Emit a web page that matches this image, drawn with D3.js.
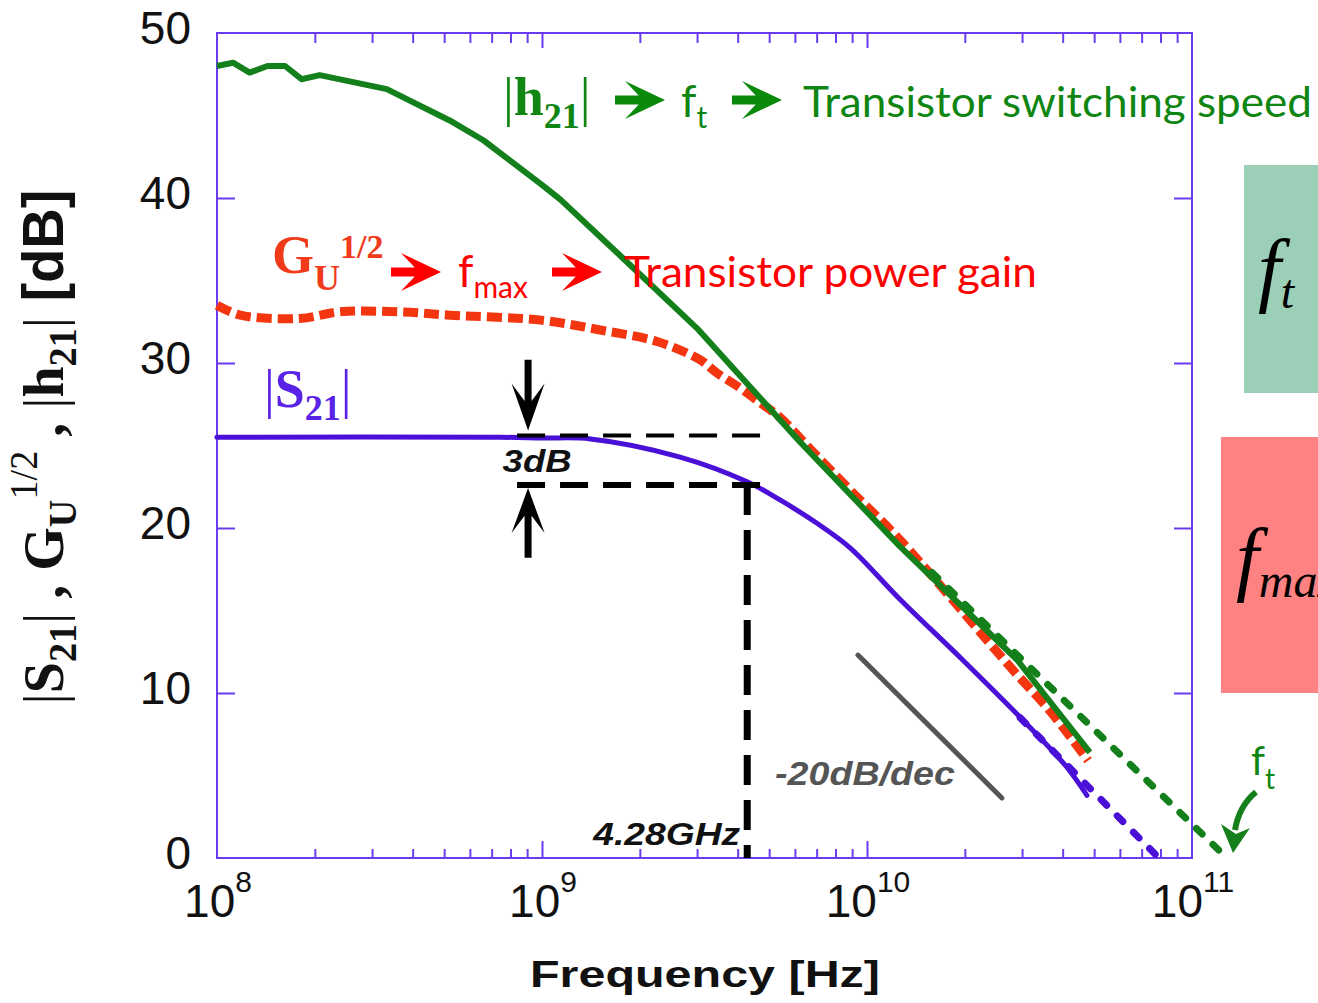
<!DOCTYPE html>
<html>
<head>
<meta charset="utf-8">
<title>|S21|, GU^1/2, |h21| vs Frequency</title>
<style>
  body { margin: 0; background: #fff; }
  svg { display: block; }
</style>
</head>
<body>
<div id="chart"></div>
<script src="https://d3js.org/d3.v7.min.js"></script>
<script>
// |h21| measured (solid green)
const h21Freq = [1.0e8, 1.12e8, 1.26e8, 1.43e8, 1.62e8, 1.82e8, 2.07e8, 3.33e8, 5.2e8, 6.6e8, 1.0e9, 1.14e9, 1.7e9, 3.0e9, 6.2e9, 1.26e10, 2.9e10, 4.85e10];
const h21Db   = [48.0, 48.2, 47.6, 48.0, 48.0, 47.2, 47.45, 46.6, 44.7, 43.5, 40.8, 39.9, 36.7, 32.1, 25.25, 18.9, 12.0, 6.4];

// GU^1/2 measured (thick red dashes)
const guFreq = [1.0e8, 1.18e8, 1.8e8, 2.39e8, 3.66e8, 5.2e8, 9.9e8, 1.51e9, 2.26e9, 3.06e9, 3.45e9, 4.06e9, 4.69e9, 5.4e9, 6.68e9, 8.87e9, 1.26e10, 2.81e10, 3.66e10, 4.79e10];
const guDb   = [33.5, 32.9, 32.7, 33.1, 33.1, 32.9, 32.6, 32.0, 31.3, 30.2, 29.4, 28.5, 27.6, 26.7, 24.8, 22.3, 19.3, 11.4, 8.9, 5.9];

// |S21| measured (solid blue)
const s21Freq = [1.0e8, 7.43e8, 1.0e9, 1.41e9, 2.66e9, 4.28e9, 5.4e9, 7.0e9, 8.87e9, 1.26e10, 1.97e10, 3.18e10, 4.12e10, 4.75e10];
const s21Db   = [25.5, 25.5, 25.45, 25.4, 24.3, 22.8, 21.7, 20.3, 18.8, 15.7, 12.0, 7.9, 5.5, 3.8];

// extrapolations down to 0 dB
const h21ExtFreq = [1.585e10, 1.28e11];
const h21ExtDb   = [17.3, 0];
const s21ExtFreq = [2.96e10, 7.91e10];
const s21ExtDb   = [8.5, 0];

// -20 dB/dec guide
const slopeFreq = [9.38e9, 2.6e10];
const slopeDb   = [12.3, 3.64];

// 3 dB bandwidth annotation
const bwFreq = 4.28e9;
const bwTop = 25.6, bwBottom = 22.6;

const yTicks = [0, 10, 20, 30, 40, 50];
const xDecades = [8, 9, 10, 11];

const W = 1318, H = 1003;
const svg = d3.select("#chart").append("svg")
    .attr("width", W).attr("height", H);

const x = d3.scaleLog().domain([1e8, 1e11]).range([217, 1192]);
const y = d3.scaleLinear().domain([0, 50]).range([858, 33]);

const axisColor = "#6a3cf0";
const greenLine = "#14801c", greenText = "#0f8512";
const redLine = "#f3360f", blueLine = "#4a10d8";

// right side colour boxes (behind everything)
svg.append("rect").attr("x", 1244).attr("y", 165).attr("width", 80).attr("height", 228).attr("fill", "#9bcfb7");
svg.append("rect").attr("x", 1221).attr("y", 437).attr("width", 100).attr("height", 256).attr("fill", "#fe8282");

// ---- axes ----
const minor = [];
[8, 9, 10].forEach(k => { for (let m = 2; m <= 9; m++) minor.push(m * Math.pow(10, k)); });
const major = [1e9, 1e10];

function tickGroup(axis, ty) {
    const g = svg.append("g").attr("transform", `translate(0,${ty})`).call(axis);
    g.select(".domain").remove();
    g.selectAll("line").attr("stroke", axisColor).attr("stroke-width", 2);
    g.selectAll("text").remove();
}
tickGroup(d3.axisBottom(x).tickValues(minor).tickSize(-9).tickFormat(""), 858);
tickGroup(d3.axisBottom(x).tickValues(major).tickSize(-17).tickFormat(""), 858);
tickGroup(d3.axisTop(x).tickValues(minor).tickSize(-10).tickFormat(""), 33);
tickGroup(d3.axisTop(x).tickValues(major).tickSize(-15).tickFormat(""), 33);

function yTickGroup(axis, tx) {
    const g = svg.append("g").attr("transform", `translate(${tx},0)`).call(axis);
    g.select(".domain").remove();
    g.selectAll("line").attr("stroke", axisColor).attr("stroke-width", 2);
    g.selectAll("text").remove();
}
yTickGroup(d3.axisLeft(y).tickValues([10, 20, 30, 40]).tickSize(-18).tickFormat(""), 217);
yTickGroup(d3.axisRight(y).tickValues([10, 20, 30, 40]).tickSize(-18).tickFormat(""), 1192);

svg.append("rect")
    .attr("x", x(1e8)).attr("y", y(50))
    .attr("width", x(1e11) - x(1e8)).attr("height", y(0) - y(50))
    .attr("fill", "none").attr("stroke", axisColor).attr("stroke-width", 2);

// tick labels
svg.append("g").selectAll("text").data(yTicks).join("text")
    .attr("x", 191).attr("y", d => y(d) - 5).attr("dy", "0.35em")
    .attr("text-anchor", "end")
    .attr("font-family", "Liberation Sans, Arial, sans-serif")
    .attr("font-size", 46).attr("fill", "#111")
    .text(d => d);

const xl = svg.append("g").selectAll("text").data(xDecades).join("text")
    .attr("x", d => x(Math.pow(10, d)) + 1).attr("y", 917)
    .attr("text-anchor", "middle")
    .attr("font-family", "Liberation Sans, Arial, sans-serif")
    .attr("fill", "#111");
xl.append("tspan").attr("font-size", 46).text("10");
xl.append("tspan").attr("font-size", 30).attr("dy", -25).text(d => d);

// axis titles
svg.append("text")
    .attr("x", 705).attr("y", 987).attr("text-anchor", "middle")
    .attr("font-family", "Liberation Sans, Arial, sans-serif")
    .attr("font-weight", "bold").attr("font-size", 36).attr("fill", "#111")
    .attr("textLength", 350).attr("lengthAdjust", "spacingAndGlyphs")
    .text("Frequency [Hz]");

const yt = svg.append("text")
    .attr("text-anchor", "middle")
    .attr("font-family", "Liberation Serif, Times New Roman, serif")
    .attr("font-size", 44).attr("fill", "#111");
const ytParts = [
    ["|", {}], ["S", { b: 1 }], ["21", { b: 1, s: 30, dy: 10 }], ["|", { dy: -10 }],
    [" , ", { b: 1 }], ["G", { b: 1 }], ["U", { b: 1, s: 30, dy: 10 }], ["1/2", { s: 30, dy: -30 }],
    [" , ", { b: 1, dy: 20 }], ["|", {}], ["h", { b: 1 }], ["21", { b: 1, s: 30, dy: 10 }], ["|", { dy: -10 }],
    [" [dB]", { b: 1, sans: 1 }]
];
ytParts.forEach(([t, o]) => {
    const ts = yt.append("tspan").text(t);
    if (o.b) ts.attr("font-weight", "bold");
    if (o.s) ts.attr("font-size", o.s);
    if (o.dy) ts.attr("dy", o.dy);
    if (o.sans) ts.attr("font-family", "Liberation Sans, Arial, sans-serif");
});
const ytLen = yt.node().getBBox().width;
yt.attr("transform", `translate(63,447) rotate(-90) scale(${515 / ytLen},1.3)`);

// ---- data lines ----
const zip = (fs, ds) => fs.map((f, i) => [f, ds[i]]);
const lineLin = d3.line().x(d => x(d[0])).y(d => y(d[1]));
const lineSmooth = d3.line().x(d => x(d[0])).y(d => y(d[1])).curve(d3.curveCatmullRom.alpha(0.5));

svg.append("path").datum(zip(guFreq, guDb)).attr("d", lineSmooth)
    .attr("fill", "none").attr("stroke", redLine).attr("stroke-width", 9)
    .attr("stroke-dasharray", "15,6");

svg.append("path").datum(zip(s21Freq, s21Db)).attr("d", lineSmooth)
    .attr("fill", "none").attr("stroke", blueLine).attr("stroke-width", 5)
    .attr("stroke-linecap", "round");

svg.append("path").datum(zip(h21Freq, h21Db)).attr("d", lineLin)
    .attr("fill", "none").attr("stroke", greenLine).attr("stroke-width", 6)
    .attr("stroke-linejoin", "round");

svg.append("path").datum(zip(h21ExtFreq, h21ExtDb)).attr("d", lineLin)
    .attr("fill", "none").attr("stroke", greenLine).attr("stroke-width", 7)
    .attr("stroke-dasharray", "8,15").attr("stroke-linecap", "round");

svg.append("path").datum(zip(s21ExtFreq, s21ExtDb)).attr("d", lineLin)
    .attr("fill", "none").attr("stroke", blueLine).attr("stroke-width", 7)
    .attr("stroke-dasharray", "8,15").attr("stroke-linecap", "round");

svg.append("path").datum(zip(slopeFreq, slopeDb)).attr("d", lineLin)
    .attr("fill", "none").attr("stroke", "#555").attr("stroke-width", 5)
    .attr("stroke-linecap", "round");

// ---- 3 dB annotation ----
const hx0 = x(8.38e8), hx1 = x(4.75e9);
svg.append("line").attr("x1", hx0).attr("x2", hx1).attr("y1", y(bwTop)).attr("y2", y(bwTop))
    .attr("stroke", "#000").attr("stroke-width", 4).attr("stroke-dasharray", "28,15");
svg.append("line").attr("x1", hx0).attr("x2", hx1).attr("y1", y(bwBottom)).attr("y2", y(bwBottom))
    .attr("stroke", "#000").attr("stroke-width", 6).attr("stroke-dasharray", "28,15");
svg.append("line").attr("x1", x(bwFreq)).attr("x2", x(bwFreq)).attr("y1", y(bwBottom)).attr("y2", y(0))
    .attr("stroke", "#000").attr("stroke-width", 7).attr("stroke-dasharray", "30,15");

// notched block arrow along +x, tip at len
function arrowPath(len, sh, headL, hh, notch) {
    const b = len - headL;
    const xs = b + notch * (1 - sh / hh);
    return `M0,${-sh}L${xs},${-sh}L${b},${-hh}L${len},0L${b},${hh}L${xs},${sh}L0,${sh}Z`;
}
function arrow(x0, y0, x1, y1, color, sh, headL, hh, notch) {
    const len = Math.hypot(x1 - x0, y1 - y0);
    const ang = Math.atan2(y1 - y0, x1 - x0) * 180 / Math.PI;
    svg.append("path").attr("d", arrowPath(len, sh, headL, hh, notch))
        .attr("transform", `translate(${x0},${y0}) rotate(${ang})`)
        .attr("fill", color);
}
const ax = x(9.06e8);
arrow(ax, y(30.2), ax, y(bwTop) - 5, "#000", 3.5, 47, 16.5, 22);
arrow(ax, y(18.2), ax, y(bwBottom) + 3, "#000", 3.5, 45, 16.5, 22);

svg.append("text").attr("x", x(9.66e8)).attr("y", 472).attr("text-anchor", "middle")
    .attr("font-family", "Liberation Sans, Arial, sans-serif").attr("font-style", "italic")
    .attr("font-weight", "bold").attr("font-size", 31).attr("fill", "#111")
    .attr("textLength", 69).attr("lengthAdjust", "spacingAndGlyphs").text("3dB");

svg.append("text").attr("x", x(bwFreq) - 7).attr("y", 845).attr("text-anchor", "end")
    .attr("font-family", "Liberation Sans, Arial, sans-serif").attr("font-style", "italic")
    .attr("font-weight", "bold").attr("font-size", 31).attr("fill", "#111")
    .attr("textLength", 147).attr("lengthAdjust", "spacingAndGlyphs").text("4.28GHz");

svg.append("text").attr("x", x(5.21e9)).attr("y", 785)
    .attr("font-family", "Liberation Sans, Arial, sans-serif").attr("font-style", "italic")
    .attr("font-weight", "bold").attr("font-size", 34).attr("fill", "#555")
    .attr("textLength", 180).attr("lengthAdjust", "spacingAndGlyphs").text("-20dB/dec");

// ---- curve labels ----
function serifLabel(px, py, color, parts) {
    const t = svg.append("text").attr("x", px).attr("y", py)
        .attr("font-family", "Liberation Serif, Times New Roman, serif")
        .attr("font-size", 54).attr("fill", color);
    parts.forEach(([s, o]) => {
        const ts = t.append("tspan").text(s);
        if (o.b) ts.attr("font-weight", "bold");
        if (o.s) ts.attr("font-size", o.s);
        if (o.dy) ts.attr("dy", o.dy);
    });
}
serifLabel(503, 115, greenText, [["|", {}], ["h", { b: 1 }], ["21", { b: 1, s: 36, dy: 13 }], ["|", { dy: -13 }]]);
serifLabel(264, 407, "#5a22e6", [["|", {}], ["S", { b: 1 }], ["21", { b: 1, s: 36, dy: 13 }], ["|", { dy: -13 }]]);
serifLabel(272, 273, "#f03a1a", [["G", { b: 1 }], ["U", { b: 1, s: 36, dy: 17 }], ["1/2", { b: 1, s: 34, dy: -32 }]]);

const sans = "Lato, Open Sans, sans-serif";
function subLabel(px, py, color, main, sub, fs, ss, dy) {
    const t = svg.append("text").attr("x", px).attr("y", py)
        .attr("font-family", sans).attr("fill", color).attr("font-size", fs);
    t.append("tspan").text(main);
    t.append("tspan").attr("font-size", ss).attr("dy", dy).text(sub);
}
subLabel(681, 117, greenText, "f", "t", 44, 30, 11);
subLabel(458, 287, "#ff0000", "f", "max", 44, 30, 11);
subLabel(1251, 775, greenText, "f", "t", 40, 28, 14);

svg.append("text").attr("x", 803).attr("y", 117)
    .attr("font-family", sans).attr("font-size", 42).attr("fill", greenText)
    .attr("textLength", 509).attr("lengthAdjust", "spacingAndGlyphs")
    .text("Transistor switching speed");
svg.append("text").attr("x", 624).attr("y", 287)
    .attr("font-family", sans).attr("font-size", 42).attr("fill", "#ff0000")
    .attr("textLength", 413).attr("lengthAdjust", "spacingAndGlyphs")
    .text("Transistor power gain");

arrow(615, 100, 665, 100, "#0a8a0a", 4.5, 40, 19, 18);
arrow(732, 100, 782, 100, "#0a8a0a", 4.5, 40, 19, 18);
arrow(391, 272, 441, 272, "#ff0000", 4.5, 40, 19, 18);
arrow(552, 272, 602, 272, "#ff0000", 4.5, 40, 19, 18);

// curved pointer to f_t on the axis
svg.append("path").attr("d", "M1256,792 Q1239,806 1235,830")
    .attr("fill", "none").attr("stroke", greenLine).attr("stroke-width", 6);
svg.append("path").attr("d", "M1221,824 L1233,853 L1250,828 L1236,834 Z").attr("fill", greenLine);

// boxes' symbols
function boxLabel(px, py, main, sub) {
    const t = svg.append("text").attr("x", px).attr("y", py)
        .attr("font-family", "Liberation Serif, Times New Roman, serif")
        .attr("font-style", "italic").attr("fill", "#000").attr("font-size", 82);
    t.append("tspan").text(main);
    t.append("tspan").attr("font-size", 48).attr("dy", 12).text(sub);
}
boxLabel(1258, 296, "f", "t");
boxLabel(1236, 585, "f", "max");
</script>
</body>
</html>
